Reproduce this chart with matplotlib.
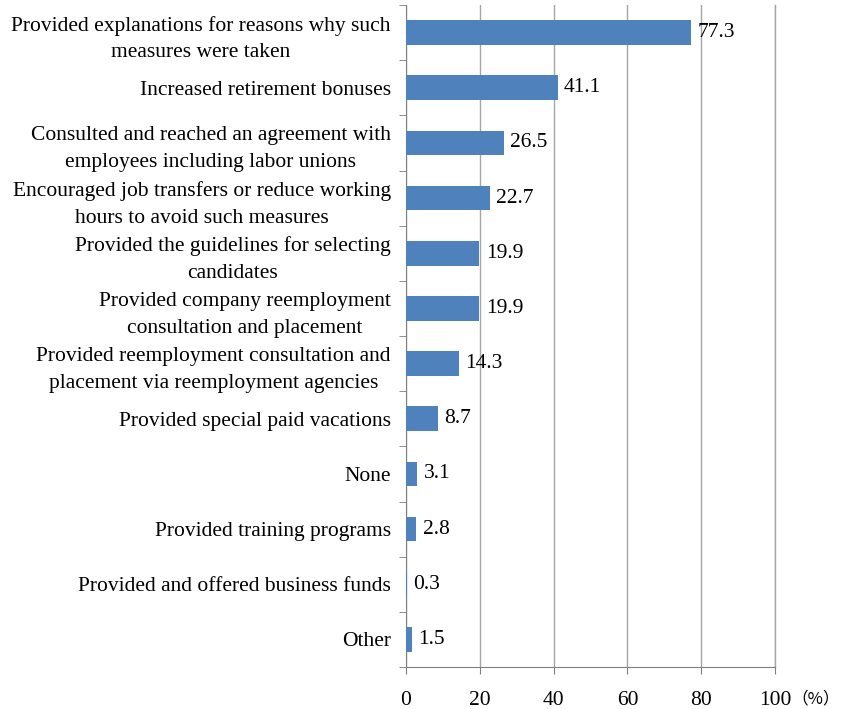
import matplotlib
matplotlib.use('Agg')
import matplotlib.pyplot as plt

# Datos del gráfico (de arriba hacia abajo)
categorias = [
    "Provided explanations for reasons why such\nmeasures were taken",
    "Increased retirement bonuses",
    "Consulted and reached an agreement with\nemployees including labor unions",
    "Encouraged job transfers or reduce working\nhours to avoid such measures",
    "Provided the guidelines for selecting\ncandidates",
    "Provided company reemployment\nconsultation and placement",
    "Provided reemployment consultation and\nplacement via reemployment agencies",
    "Provided special paid vacations",
    "None",
    "Provided training programs",
    "Provided and offered business funds",
    "Other",
]
valores = [77.3, 41.1, 26.5, 22.7, 19.9, 19.9, 14.3, 8.7, 3.1, 2.8, 0.3, 1.5]
x_ticks = [0, 20, 40, 60, 80, 100]

plt.rcParams['font.family'] = ['Liberation Serif', 'DejaVu Serif']

fig = plt.figure(figsize=(8.44, 7.09), dpi=100)
ax = fig.add_axes([406 / 844, 1 - 667 / 709, (775 - 406) / 844, (667 - 5) / 709])

n = len(categorias)
pos = list(range(n))
ax.barh(pos, valores, height=0.45, color='#4f81bd', zorder=3)

ax.set_xlim(0, 100)
ax.set_ylim(n - 0.5, -0.5)
ax.set_xticks(x_ticks)
ax.set_xticklabels([str(t) for t in x_ticks])
ax.tick_params(axis='x', direction='out', length=5, color='#808080', pad=12, labelsize=15.5)

# Etiquetas de categoría sin ticks, ticks en los límites
ax.set_yticks(pos)
ax.set_yticklabels(categorias, linespacing=1.55)
ax.tick_params(axis='y', length=0, pad=11, labelsize=15.5)
ax.set_yticks([p - 0.5 for p in pos] + [n - 0.5], minor=True)
ax.tick_params(axis='y', which='minor', direction='out', length=5, color='#808080')
for lbl in ax.get_yticklabels():
    lbl.set_multialignment('center')

ax.grid(axis='x', color='#a6a6a6', linewidth=1, zorder=0)
ax.axvline(100, color='#a6a6a6', linewidth=1, zorder=0, clip_on=False)
for s in ['top', 'right']:
    ax.spines[s].set_visible(False)
for s in ['left', 'bottom']:
    ax.spines[s].set_color('#808080')

for p, v in zip(pos, valores):
    ax.text(v + 1.7, p, f"{v:.1f}", va='center', ha='left', fontsize=15.5, zorder=4)

ax.text(1.045, -0.048, "（%）", transform=ax.transAxes, ha='left', va='center',
        fontsize=12, family=['Noto Sans CJK JP', 'DejaVu Sans'])

fig.savefig('out.png', dpi=100)
